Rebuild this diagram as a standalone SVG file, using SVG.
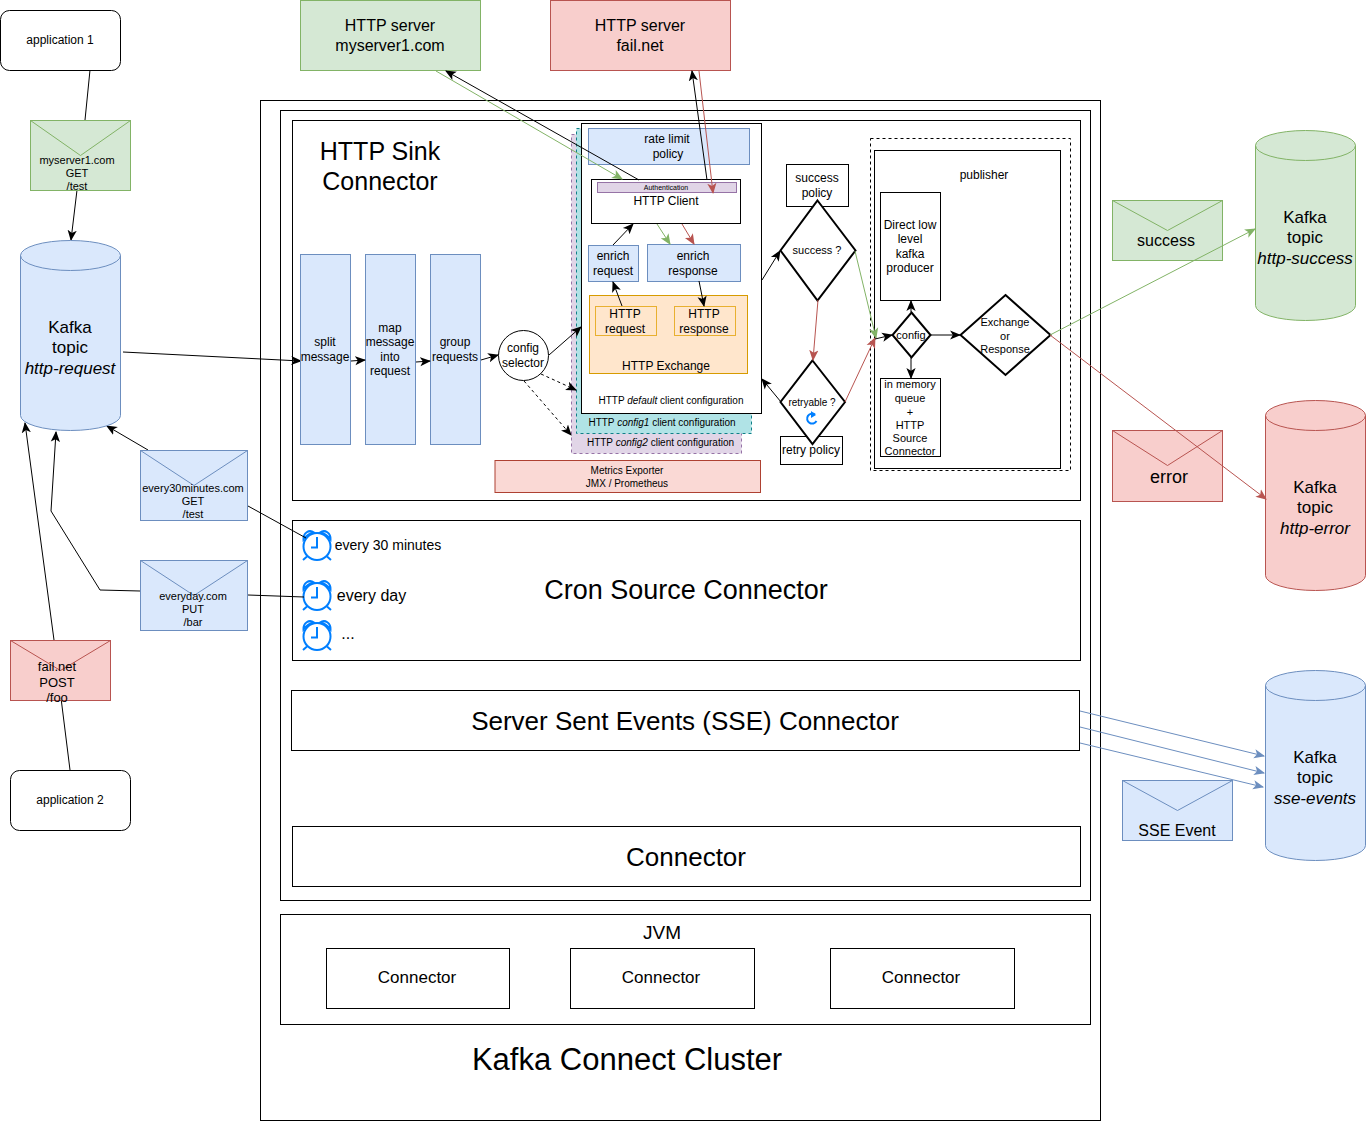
<svg xmlns="http://www.w3.org/2000/svg" width="1366" height="1122" viewBox="0 0 1366 1122">
<defs>
<marker id="ak" viewBox="0 0 10 10" refX="9" refY="5" markerWidth="11" markerHeight="11" markerUnits="userSpaceOnUse" orient="auto"><path d="M0,0.8 L10,5 L0,9.2 L2.5,5 Z" fill="#000"/></marker>
<marker id="ag" viewBox="0 0 10 10" refX="9" refY="5" markerWidth="11" markerHeight="11" markerUnits="userSpaceOnUse" orient="auto"><path d="M0,0.8 L10,5 L0,9.2 L2.5,5 Z" fill="#82b366"/></marker>
<marker id="ar" viewBox="0 0 10 10" refX="9" refY="5" markerWidth="11" markerHeight="11" markerUnits="userSpaceOnUse" orient="auto"><path d="M0,0.8 L10,5 L0,9.2 L2.5,5 Z" fill="#b85450"/></marker>
<marker id="ab" viewBox="0 0 10 10" refX="9" refY="5" markerWidth="11" markerHeight="11" markerUnits="userSpaceOnUse" orient="auto"><path d="M0,0.8 L10,5 L0,9.2 L2.5,5 Z" fill="#6c8ebf"/></marker>
<g id="clock" fill="none" stroke="#007fff" stroke-width="2"><circle cx="0" cy="0.500" r="13.500"/><path d="M0,-9V1.500H-6"/><path d="M-13.500,-6.500C-14,-13 -8,-17 -3,-13.500C-8,-13 -11,-10 -13.500,-6.500ZM13.500,-6.500C14,-13 8,-17 3,-13.500C8,-13 11,-10 13.500,-6.500Z"/><path d="M-10,10.500L-14,14M10,10.500L14,14"/></g>
</defs>
<style>
text{font-family:"Liberation Sans",Arial,sans-serif;fill:#000;text-anchor:middle}
.s10{font-size:10px}.s12{font-size:12px}.s14{font-size:14px}.s16{font-size:16px}.s18{font-size:18px}
.w{fill:#fff;stroke:#000;stroke-width:1}
.bl{fill:#dae8fc;stroke:#6c8ebf}.gr{fill:#d5e8d4;stroke:#82b366}.rd{fill:#f8cecc;stroke:#b85450}
.f{fill:none}
.ck{stroke:#000;fill:none;marker-end:url(#ak)}
.cg{stroke:#82b366;fill:none;marker-end:url(#ag)}
.cr{stroke:#b85450;fill:none;marker-end:url(#ar)}
.cb{stroke:#6c8ebf;fill:none;marker-end:url(#ab)}
.d{stroke-dasharray:3 3}
.dm{fill:#fff;stroke:#000;stroke-width:2}
</style>

<g id="cluster"><rect class="w" x="260.500" y="100.500" width="840" height="1020"/><text x="627" y="1070" font-size="31">Kafka Connect Cluster</text></g>
<g id="worker"><rect class="w" x="280.500" y="110.500" width="810" height="790"/></g>
<g id="sink"><rect class="w" x="292.500" y="120.500" width="788" height="380"/>
<text x="380" y="160" font-size="25">HTTP Sink</text><text x="380" y="190" font-size="25">Connector</text></g>

<g id="app1"><rect class="w" x="0.500" y="10.500" width="120" height="60" rx="9"/><text class="s12" x="60" y="44">application 1</text></g>
<g id="app2"><rect class="w" x="10.500" y="770.500" width="120" height="60" rx="9"/><text class="s12" x="70" y="804">application 2</text></g>
<g id="server1"><rect class="gr" x="300.500" y="0.500" width="180" height="70"/><text class="s16" x="390" y="31">HTTP server</text><text class="s16" x="390" y="51">myserver1.com</text></g>
<g id="server2"><rect class="rd" x="550.500" y="0.500" width="180" height="70"/><text class="s16" x="640" y="31">HTTP server</text><text class="s16" x="640" y="51">fail.net</text></g>

<g id="connectors">
<path d="M90,70L85,120" stroke="#000" fill="none"/>
<path class="ck" d="M77,190L71,240"/>
<path class="ck" d="M123,352L301,361"/>
<path class="ck" d="M148,450L107,426"/>
<path class="ck" d="M140,591L100,590L51,511L56,432"/>
<path class="ck" d="M54,640L25,423"/>
<path d="M70,770L60,690" stroke="#000" fill="none"/>
<path class="cb" d="M1080,711L1264,756"/>
<path class="cb" d="M1080,727L1264,773"/>
<path class="cb" d="M1080,743L1263,787"/>
</g>

<g id="kafka-request"><path class="bl" d="M20.500,255.500V415.500A50,15 0 0 0 120.500,415.500V255.500A50,15 0 0 0 20.500,255.500Z"/><path class="f" stroke="#6c8ebf" d="M20.500,255.500A50,15 0 0 0 120.500,255.500"/><text x="70" y="333" font-size="17">Kafka</text><text x="70" y="353" font-size="17">topic</text><text x="70" y="374" font-size="17" font-style="italic">http-request</text></g>
<g id="kafka-success"><path class="gr" d="M1255.500,145.500V305.500A50,15 0 0 0 1355.500,305.500V145.500A50,15 0 0 0 1255.500,145.500Z"/><path class="f" stroke="#82b366" d="M1255.500,145.500A50,15 0 0 0 1355.500,145.500"/><text x="1305" y="223" font-size="17">Kafka</text><text x="1305" y="243" font-size="17">topic</text><text x="1305" y="264" font-size="17" font-style="italic">http-success</text></g>
<g id="kafka-error"><path class="rd" d="M1265.500,415.500V575.500A50,15 0 0 0 1365.500,575.500V415.500A50,15 0 0 0 1265.500,415.500Z"/><path class="f" stroke="#b85450" d="M1265.500,415.500A50,15 0 0 0 1365.500,415.500"/><text x="1315" y="493" font-size="17">Kafka</text><text x="1315" y="513" font-size="17">topic</text><text x="1315" y="534" font-size="17" font-style="italic">http-error</text></g>
<g id="kafka-sse"><path class="bl" d="M1265.500,685.500V845.500A50,15 0 0 0 1365.500,845.500V685.500A50,15 0 0 0 1265.500,685.500Z"/><path class="f" stroke="#6c8ebf" d="M1265.500,685.500A50,15 0 0 0 1365.500,685.500"/><text x="1315" y="763" font-size="17">Kafka</text><text x="1315" y="783" font-size="17">topic</text><text x="1315" y="804" font-size="17" font-style="italic">sse-events</text></g>

<g id="msg-myserver"><rect class="gr" x="30.500" y="120.500" width="100" height="70"/><path class="f" stroke="#82b366" d="M30.500,120.500L80.500,155.500L130.500,120.500"/><text font-size="11" x="77" y="164">myserver1.com</text><text font-size="11" x="77" y="177">GET</text><text font-size="11" x="77" y="190">/test</text></g>
<g id="msg-30"><rect class="bl" x="140.500" y="450.500" width="107" height="70"/><path class="f" stroke="#6c8ebf" d="M140.500,450.500L194,485.500L247.500,450.500"/><text font-size="11" x="193" y="492">every30minutes.com</text><text font-size="11" x="193" y="505">GET</text><text font-size="11" x="193" y="518">/test</text></g>
<g id="msg-day"><rect class="bl" x="140.500" y="560.500" width="107" height="70"/><path class="f" stroke="#6c8ebf" d="M140.500,560.500L194,595.500L247.500,560.500"/><text font-size="11" x="193" y="600">everyday.com</text><text font-size="11" x="193" y="613">PUT</text><text font-size="11" x="193" y="626">/bar</text></g>
<g id="msg-fail"><rect class="rd" x="10.500" y="640.500" width="100" height="60"/><path class="f" stroke="#b85450" d="M10.500,640.500L60.500,670.500L110.500,640.500"/><text font-size="13" x="57" y="671">fail.net</text><text font-size="13" x="57" y="687">POST</text><text font-size="13" x="57" y="702">/foo</text></g>
<g id="msg-success"><rect class="gr" x="1112.500" y="200.500" width="110" height="60"/><path class="f" stroke="#82b366" d="M1112.500,200.500L1167.500,230.500L1222.500,200.500"/><text class="s16" x="1166" y="246">success</text></g>
<g id="msg-error"><rect class="rd" x="1112.500" y="430.500" width="110" height="71"/><path class="f" stroke="#b85450" d="M1112.500,430.500L1167.500,465.500L1222.500,430.500"/><text class="s18" x="1169" y="483">error</text></g>
<g id="msg-sse"><rect class="bl" x="1122.500" y="780.500" width="110" height="60"/><path class="f" stroke="#6c8ebf" d="M1122.500,780.500L1177.500,810.500L1232.500,780.500"/><text class="s16" x="1177" y="836">SSE Event</text></g>

<g id="split"><rect class="bl" x="300.500" y="254.500" width="50" height="190"/><text class="s12" x="325" y="346">split</text><text class="s12" x="325" y="361">message</text></g>
<g id="map"><rect class="bl" x="365.500" y="254.500" width="50" height="190"/><text class="s12" x="390" y="332">map</text><text class="s12" x="390" y="346">message</text><text class="s12" x="390" y="361">into</text><text class="s12" x="390" y="375">request</text></g>
<g id="group"><rect class="bl" x="430.500" y="254.500" width="50" height="190"/><text class="s12" x="455" y="346">group</text><text class="s12" x="455" y="361">requests</text></g>
<g id="selector"><circle class="w" cx="523.500" cy="355.500" r="25"/><text class="s12" x="523" y="352">config</text><text class="s12" x="523" y="367">selector</text></g>

<g id="config2"><rect fill="#e1d5e7" stroke="#9673a6" stroke-dasharray="3 3" x="571.500" y="134.500" width="170" height="319"/><text font-size="10" x="660.500" y="446">HTTP <tspan font-style="italic">config2</tspan> client configuration</text></g>
<g id="config1"><rect fill="#b0e3e6" stroke="#0e8088" stroke-dasharray="3 3" x="576.500" y="128.500" width="175" height="305"/><text font-size="10" x="662" y="426">HTTP <tspan font-style="italic">config1</tspan> client configuration</text></g>
<g id="configdefault"><rect class="w" x="581.500" y="123.500" width="180" height="290"/><text font-size="10" x="671" y="404">HTTP <tspan font-style="italic">default</tspan> client configuration</text></g>
<g id="ratelimit"><rect class="bl" x="588.500" y="128.500" width="161" height="36"/><text class="s12" x="667" y="143">rate limit</text><text class="s12" x="668" y="158">policy</text></g>
<g id="client"><rect class="w" x="591.500" y="179.500" width="149" height="44"/><rect fill="#e1d5e7" stroke="#9673a6" x="597.500" y="182.500" width="139" height="10"/><text font-size="7" x="666" y="190">Authentication</text><text class="s12" x="666" y="205">HTTP Client</text></g>
<g id="enrichreq"><rect class="bl" x="588.500" y="245.500" width="50" height="36"/><text class="s12" x="613" y="260">enrich</text><text class="s12" x="613" y="275">request</text></g>
<g id="enrichresp"><rect class="bl" x="647.500" y="244.500" width="93" height="37"/><text class="s12" x="693" y="260">enrich</text><text class="s12" x="693" y="275">response</text></g>
<g id="exchange"><rect fill="#ffe6cc" stroke="#d79b00" x="589.500" y="295.500" width="158" height="78"/><text class="s12" x="666" y="370">HTTP Exchange</text></g>
<g id="httpreq"><rect x="595.500" y="306.500" width="61" height="29" style="fill:#ffe6cc;stroke:#e8b030"/><text class="s12" x="625" y="318">HTTP</text><text class="s12" x="625" y="333">request</text></g>
<g id="httpresp"><rect x="674.500" y="306.500" width="61" height="29" style="fill:#ffe6cc;stroke:#e8b030"/><text class="s12" x="704" y="318">HTTP</text><text class="s12" x="704" y="333">response</text></g>
<g id="metrics"><rect fill="#fad9d5" stroke="#ae4132" x="495" y="460.500" width="265.500" height="32"/><text font-size="10" x="627" y="474">Metrics Exporter</text><text font-size="10" x="627" y="487">JMX / Prometheus</text></g>

<g id="successpolicy"><rect class="w" x="786.500" y="164.500" width="62" height="42"/><text class="s12" x="817" y="182">success</text><text class="s12" x="817" y="197">policy</text></g>
<g id="retrypolicy"><rect class="w" x="780.500" y="436.500" width="62" height="28"/><text class="s12" x="811" y="454">retry policy</text></g>
<g id="successq"><path class="dm" d="M817.500,200.500L855.500,250.500L817.500,300.500L780.500,250.500Z"/><text font-size="11" x="817" y="254">success ?</text></g>
<g id="retryq"><path class="dm" d="M812.500,360.500L845,402L812.500,444L780.500,402Z"/><text font-size="10" x="812" y="406">retryable ?</text><path d="M815,414.500A5,5 0 1 0 816.500,421" fill="none" stroke="#007fff" stroke-width="2"/><path d="M811,411L816,415L811,418Z" fill="#007fff"/></g>
<g id="publisher-outer"><rect fill="none" stroke="#000" stroke-dasharray="3 3" x="870.500" y="138.500" width="200" height="332"/></g>
<g id="publisher"><rect class="w" x="874.500" y="150.500" width="186" height="318"/><text class="s12" x="984" y="179">publisher</text></g>
<g id="direct"><rect class="w" x="880.500" y="192.500" width="60" height="108"/><text class="s12" x="910" y="229">Direct low</text><text class="s12" x="910" y="243">level</text><text class="s12" x="910" y="258">kafka</text><text class="s12" x="910" y="272">producer</text></g>
<g id="queue"><rect class="w" x="880.500" y="378.500" width="60" height="78"/><text font-size="11" x="910" y="388">in memory</text><text font-size="11" x="910" y="402">queue</text><text font-size="11" x="910" y="416">+</text><text font-size="11" x="910" y="429">HTTP</text><text font-size="11" x="910" y="442">Source</text><text font-size="11" x="910" y="455">Connector</text></g>
<g id="configd"><path class="dm" d="M911.500,312.500L930.500,335L911.500,357.500L892.500,335Z"/><text font-size="11" x="911" y="339">config</text></g>
<g id="exch"><path class="dm" d="M1005.500,295L1050.500,335L1005.500,375L960.500,335Z"/><text font-size="11" x="1005" y="326">Exchange</text><text font-size="11" x="1005" y="340">or</text><text font-size="11" x="1005" y="353">Response</text></g>

<g id="flows">
<path class="ck" d="M351,361L365,360"/>
<path class="ck" d="M416,362L430,361"/>
<path class="ck" d="M481,360L498,355"/>
<path class="ck" d="M549,355L581,327"/>
<path class="ck d" d="M541,374L576,390"/>
<path class="ck d" d="M524,381L571,435"/>
<path class="cg" d="M436,71L622,179"/>
<path class="ck" d="M639,180L446,71"/>
<path class="ck" d="M707,180L692,71"/>
<path class="cr" d="M699,71L713,193"/>
<path class="ck" d="M613,245L633,224"/>
<path class="cg" d="M657,224L670,244"/>
<path class="cr" d="M682,224L694,244"/>
<path class="ck" d="M622,306L613,282"/>
<path class="ck" d="M699,281L704,306"/>
<path class="ck" d="M762,280L780,251"/>
<path class="ck" d="M781,402L762,379"/>
<path class="cg" d="M855,251L876,338"/>
<path class="cr" d="M818,300L813,360"/>
<path class="cr" d="M845,402L875,338"/>
<path class="ck" d="M875,339L892,335"/>
<path class="ck" d="M911,312L911,301"/>
<path class="ck" d="M911,357L911,378"/>
<path class="ck" d="M930,335L960,335"/>
<path class="cg" d="M1050,335L1255,229"/>
<path class="cr" d="M1050,335L1266,499"/>
</g>

<g id="cron"><rect class="w" x="292.500" y="520.500" width="788" height="140"/><text font-size="27" x="686" y="599">Cron Source Connector</text>
<use href="#clock" x="317" y="546"/><text class="s14" x="388" y="550">every 30 minutes</text>
<use href="#clock" x="317" y="596"/><text class="s16" x="371.500" y="601">every day</text>
<use href="#clock" x="317" y="636"/><text class="s16" x="348" y="639">...</text></g>
<g id="cron-links"><path d="M248,506L306,538" stroke="#000" fill="none"/><path d="M248,595L304,597" stroke="#000" fill="none"/></g>
<g id="sse"><rect class="w" x="291.500" y="690.500" width="788" height="60"/><text font-size="26" x="685" y="730">Server Sent Events (SSE) Connector</text></g>
<g id="connector"><rect class="w" x="292.500" y="826.500" width="788" height="60"/><text font-size="26" x="686" y="866">Connector</text></g>
<g id="jvm"><rect class="w" x="280.500" y="914.500" width="810" height="110"/><text font-size="19" x="662" y="939">JVM</text></g>
<g id="conn1"><rect class="w" x="326.500" y="948.500" width="183" height="60"/><text font-size="17" x="417" y="983">Connector</text></g>
<g id="conn2"><rect class="w" x="570.500" y="948.500" width="184" height="60"/><text font-size="17" x="661" y="983">Connector</text></g>
<g id="conn3"><rect class="w" x="830.500" y="948.500" width="184" height="60"/><text font-size="17" x="921" y="983">Connector</text></g>
</svg>
